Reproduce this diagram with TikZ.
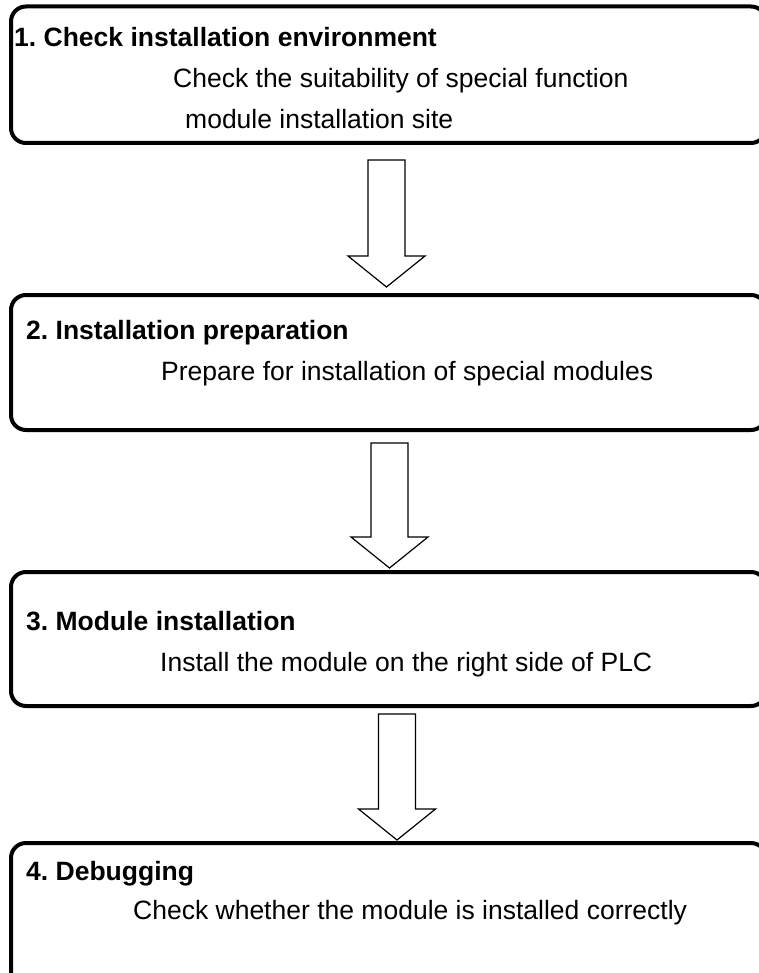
\documentclass[tikz,border=0pt]{standalone}
\usepackage{fontspec}
\setmainfont{Liberation Sans}
\usetikzlibrary{calc}
\frenchspacing

% block arrow: from node, to node, x shift, gap below from, gap above to
\newcommand{\blockarrow}[5]{%
 \path ($(#1.south)+(#3,#4)$) coordinate (at) ($(#2.north)+(#3,-#5)$) coordinate (ab);
 \draw[flowarrow] let \p1=(at), \p2=(ab) in
  (\x1-18.5pt,\y1) -- (\x1+18.5pt,\y1) -- (\x1+18.5pt,\y2+31pt) -- (\x1+38.5pt,\y2+31pt)
  -- (\x1,\y2) -- (\x1-38.5pt,\y2+31pt) -- (\x1-18.5pt,\y2+31pt) -- cycle;}

\begin{document}
\begin{tikzpicture}[x=1pt,y=-1pt,
 stepbox/.style={draw,line width=4pt,rounded corners=15pt,inner sep=0pt,outer sep=0pt,
  anchor=north west,minimum width=755pt},
 steptitle/.style={anchor=base west,inner sep=0pt,font=\bfseries\fontsize{26.5}{30}\selectfont},
 stepnote/.style={anchor=base west,inner sep=0pt,font=\fontsize{26.5}{30}\selectfont},
 flowarrow/.style={draw,fill=white,line width=1.2pt,miter limit=20}]
 \useasboundingbox (0,0) rectangle (759,973);
 \clip (0,0) rectangle (759,973);
 % boxes
 \node[stepbox,minimum height=136.5pt] (b1) at (11,6.5) {};
 \node[stepbox,minimum height=135pt] (b2) at (11,295) {};
 \node[stepbox,minimum height=134pt] (b3) at (11,572) {};
 \node[stepbox,minimum height=167pt] (b4) at (11,843) {};
 % texts
 \node[steptitle] (t1) at (14,47) {1. Check installation environment};
 \node[stepnote] (n1) at (173,88) {Check the suitability of special function};
 \node[stepnote] (n1b) at (185,129) {module installation site};
 \node[steptitle] (t2) at (26,339) {2. Installation preparation};
 \node[stepnote] (n2) at (161,380) {Prepare for installation of special modules};
 \node[steptitle] (t3) at (26,630) {3. Module installation};
 \node[stepnote] (n3) at (160,671) {Install the module on the right side of PLC};
 \node[steptitle] (t4) at (26,880) {4. Debugging};
 \node[stepnote] (n4) at (133,919) {Check whether the module is installed correctly};
 % arrows
 \blockarrow{b1}{b2}{-2}{17}{8}
 \blockarrow{b2}{b3}{1}{13}{4}
 \blockarrow{b3}{b4}{8.5}{8}{3}
\end{tikzpicture}
\end{document}
